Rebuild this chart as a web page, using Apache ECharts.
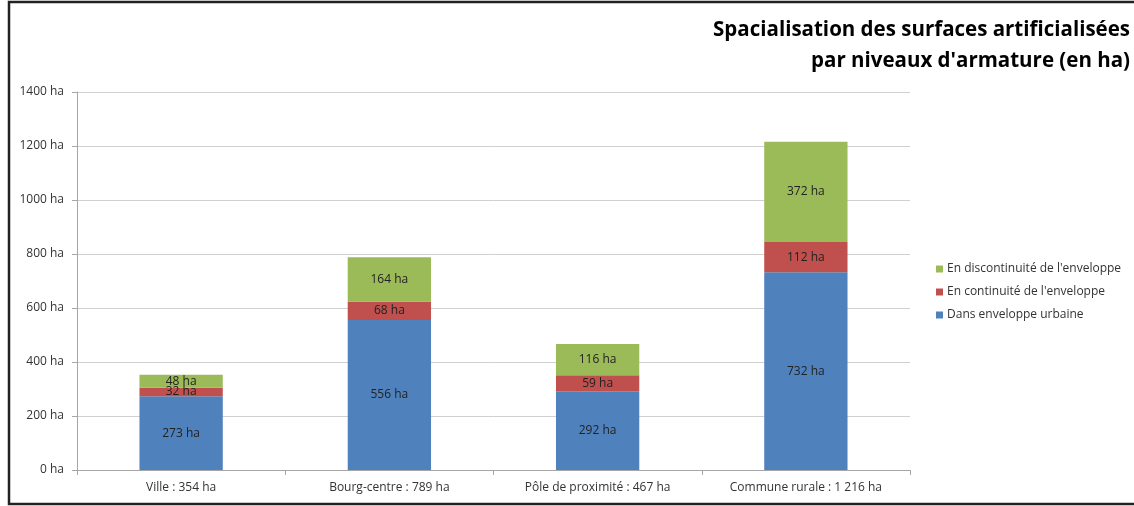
<!DOCTYPE html>
<html><head><meta charset="utf-8">
<script src="https://cdn.jsdelivr.net/npm/echarts@6/dist/echarts.min.js"></script>
<style>html,body{margin:0;padding:0;background:#fff}#c{width:1134px;height:506px}</style>
</head><body><div id="c"></div>
<script>
const categories = ['Ville : 354 ha', 'Bourg-centre : 789 ha', 'Pôle de proximité : 467 ha', 'Commune rurale : 1 216 ha'];
const dansEnveloppe = [273, 556, 292, 732];
const enContinuite = [32, 68, 59, 112];
const enDiscontinuite = [48, 164, 116, 372];
const yTicks = [0, 200, 400, 600, 800, 1000, 1200, 1400];
const seriesNames = ['Dans enveloppe urbaine', "En continuité de l'enveloppe", "En discontinuité de l'enveloppe"];
const colors = ['#4F81BD', '#C0504D', '#9BBB59'];
const titleLines = ['Spacialisation des surfaces artificialisées', "par niveaux d'armature (en ha)"];

const font = 'Open Sans';
const chart = echarts.init(document.getElementById('c'), null, {renderer: 'canvas'});
const lbl = {show: true, position: 'inside', color: '#222', fontFamily: font, fontSize: 12, formatter: p => p.value + ' ha'};
const mk = (name, data, i) => ({
  name, type: 'bar', stack: 't', data, barWidth: '40%',
  itemStyle: {color: colors[i]}, label: lbl, emphasis: {disabled: true}
});
chart.setOption({
  animation: false,
  textStyle: {fontFamily: font},
  legend: {
    orient: 'vertical', left: 931, top: 258, itemGap: 11, itemWidth: 7, itemHeight: 7,
    data: [seriesNames[2], seriesNames[1], seriesNames[0]],
    icon: 'rect',
    textStyle: {fontFamily: font, fontSize: 12, color: '#333', padding: [0, 0, 0, -1]}
  },
  grid: {left: 77, right: 224, top: 92, bottom: 36, containLabel: false},
  xAxis: {
    type: 'category', data: categories,
    axisLine: {lineStyle: {color: '#A6A6A6'}},
    axisTick: {show: true, length: 5, lineStyle: {color: '#A6A6A6'}},
    axisLabel: {color: '#333', fontFamily: font, fontSize: 12, margin: 12}
  },
  yAxis: {
    type: 'value', min: 0, max: 1400, interval: 200,
    axisLine: {show: true, lineStyle: {color: '#A6A6A6'}},
    axisTick: {show: true, length: 5, lineStyle: {color: '#A6A6A6'}},
    splitLine: {lineStyle: {color: '#D0D0D0'}},
    axisLabel: {color: '#333', fontFamily: font, fontSize: 12, margin: 13,
      formatter: v => yTicks.includes(v) ? v + ' ha' : ''}
  },
  graphic: [
    {type: 'rect', shape: {x: 9, y: 2, width: 1140, height: 502},
      style: {fill: 'none', stroke: '#222', lineWidth: 2.5}, silent: true},
    {type: 'text', x: 1130, y: 30, silent: true,
      style: {text: titleLines[0], align: 'right', verticalAlign: 'middle', font: 'bold 20.5px "Open Sans"', fill: '#000'}},
    {type: 'text', x: 1130, y: 61, silent: true,
      style: {text: titleLines[1], align: 'right', verticalAlign: 'middle', font: 'bold 20.5px "Open Sans"', fill: '#000'}}
  ],
  series: [mk(seriesNames[0], dansEnveloppe, 0), mk(seriesNames[1], enContinuite, 1), mk(seriesNames[2], enDiscontinuite, 2)]
});
</script></body></html>
